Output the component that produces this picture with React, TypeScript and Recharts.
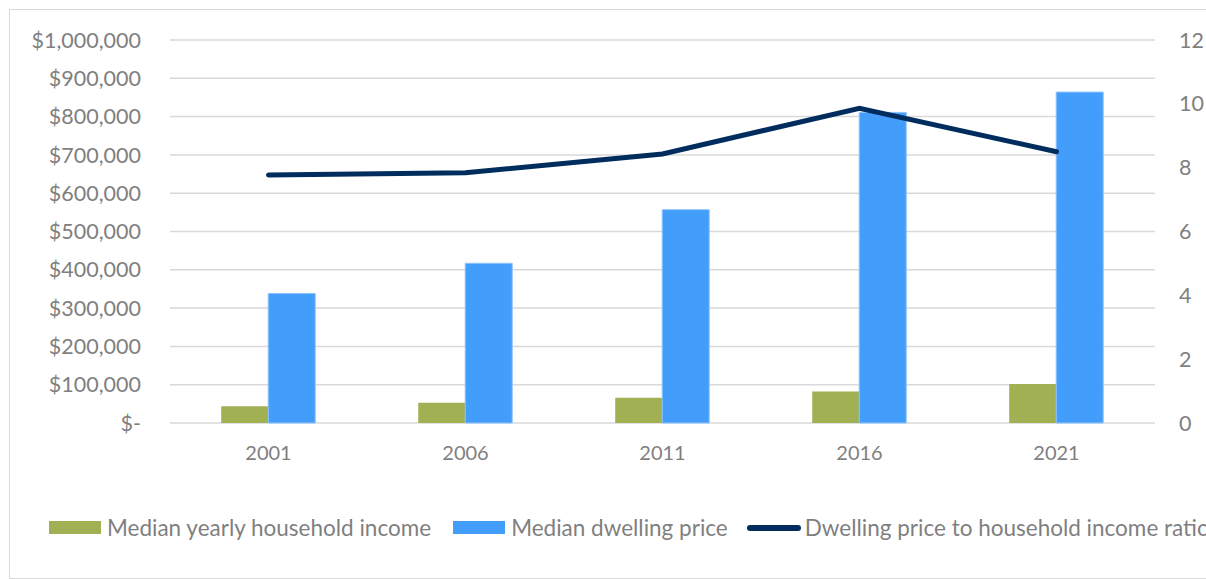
import React from 'react'
import {
  ComposedChart, Bar, Line, XAxis, YAxis, CartesianGrid, Legend,
} from 'recharts'

const years = ['2001', '2006', '2011', '2016', '2021']
const householdIncome = [44000, 53000, 66000, 82000, 102000]
const dwellingPrice = [338000, 417000, 557000, 811000, 864000]
const priceIncomeRatio = [7.77, 7.84, 8.43, 9.86, 8.5]

const leftTicks = [0, 100000, 200000, 300000, 400000, 500000, 600000, 700000, 800000, 900000, 1000000]
const rightTicks = [0, 2, 4, 6, 8, 10, 12]

const data = years.map((year, i) => ({
  year,
  income: householdIncome[i],
  price: dwellingPrice[i],
  ratio: priceIncomeRatio[i],
}))

const FONT = 'Lato, "Open Sans", sans-serif'
const TEXT = '#7f7f7f'
const GREEN = '#a0b052'
const BLUE = '#439dfb'
const NAVY = '#002d5e'

const money = (v: number) => (v === 0 ? '$-' : '$' + v.toLocaleString('en-US'))

// right axis labels sit 24px off the plot edge
function RightTick(props: any) {
  const { x, y, payload } = props
  return (
    <text x={x + 24} y={y} dy="0.355em" textAnchor="start" fill={TEXT} fontSize={21.5} fontFamily={FONT}>
      {payload.value}
    </text>
  )
}

function ChartLegend() {
  const label = { color: TEXT, fontSize: 22.5, fontFamily: FONT, whiteSpace: 'nowrap' as const }
  return (
    <div style={{ display: 'flex', alignItems: 'center', paddingLeft: 49 }}>
      <div style={{ display: 'flex', alignItems: 'center', marginRight: 22 }}>
        <span style={{ width: 52, height: 13, background: GREEN, marginRight: 6 }} />
        <span style={label}>Median yearly household income</span>
      </div>
      <div style={{ display: 'flex', alignItems: 'center', marginRight: 19 }}>
        <span style={{ width: 52, height: 13, background: BLUE, marginRight: 6 }} />
        <span style={label}>Median dwelling price</span>
      </div>
      <div style={{ display: 'flex', alignItems: 'center' }}>
        <span style={{ width: 54, height: 6, borderRadius: 3, background: NAVY, marginRight: 4 }} />
        <span style={label}>Dwelling price to household income ratio</span>
      </div>
    </div>
  )
}

export default function App() {
  return (
    <div style={{ position: 'absolute', left: 0, top: 0, width: 1206, height: 579, overflow: 'hidden', background: '#fff' }}>
      <div style={{ position: 'absolute', left: 9, top: 9, width: 1300, height: 568, borderTop: '1px solid #d9d9d9', borderLeft: '1px solid #d9d9d9', borderBottom: '1px solid #d9d9d9' }} />
      <ComposedChart
        width={1206}
        height={579}
        data={data}
        margin={{ top: 40, right: 0, left: 0, bottom: 99 }}
        barCategoryGap="26%"
        barGap={0}
      >
        <CartesianGrid yAxisId="left" vertical={false} stroke="#d9d9d9" strokeWidth={1.5} />
        <XAxis
          dataKey="year"
          axisLine={false}
          tickLine={false}
          tickSize={0}
          tickMargin={23}
          height={30}
          tick={{ fill: TEXT, fontSize: 20, fontFamily: FONT }}
        />
        <YAxis
          yAxisId="left"
          orientation="left"
          width={170}
          domain={[0, 1000000]}
          ticks={leftTicks}
          tickFormatter={money}
          axisLine={false}
          tickLine={false}
          tickSize={0}
          tickMargin={29}
          tick={{ fill: TEXT, fontSize: 21.5, fontFamily: FONT }}
        />
        <YAxis
          yAxisId="right"
          orientation="right"
          width={51}
          domain={[0, 12]}
          ticks={rightTicks}
          axisLine={false}
          tickLine={false}
          tickSize={0}
          tickMargin={0}
          tick={<RightTick />}
        />
        <Legend
          verticalAlign="bottom"
          content={() => <ChartLegend />}
          wrapperStyle={{ top: 514, left: 0, bottom: 'auto', width: 1206 }}
        />
        <Bar yAxisId="left" dataKey="income" name="Median yearly household income" fill={GREEN} isAnimationActive={false} />
        <Bar yAxisId="left" dataKey="price" name="Median dwelling price" fill={BLUE} stroke="#8cc3fc" strokeWidth={1} isAnimationActive={false} />
        <Line
          yAxisId="right"
          dataKey="ratio"
          name="Dwelling price to household income ratio"
          type="linear"
          stroke={NAVY}
          strokeWidth={5}
          strokeLinecap="round"
          dot={false}
          activeDot={false}
          isAnimationActive={false}
        />
      </ComposedChart>
    </div>
  )
}
